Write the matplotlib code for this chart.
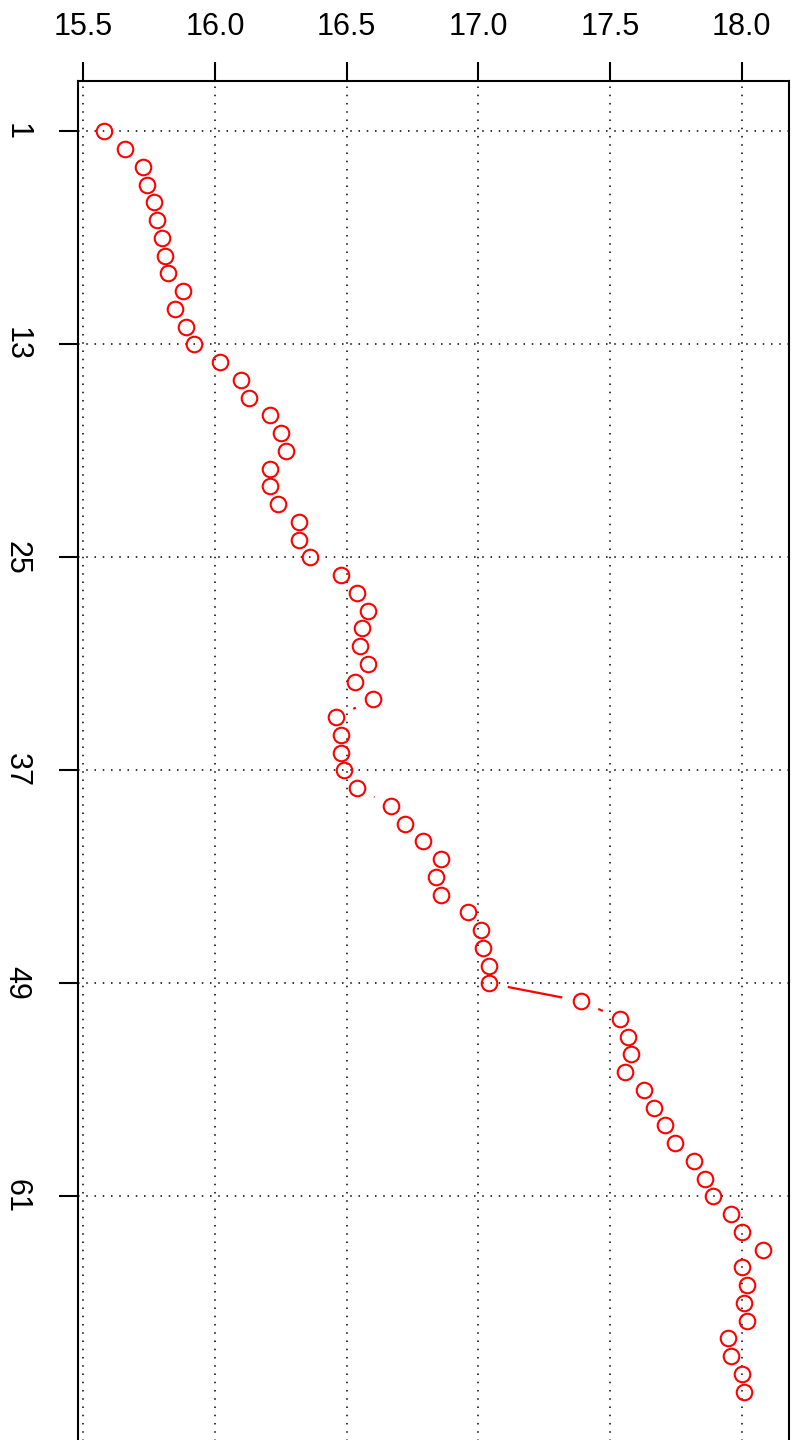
import numpy as np
import matplotlib
matplotlib.use("Agg")
import matplotlib.pyplot as plt

# ---- data ----
values = [15.578, 15.659, 15.728, 15.740, 15.770, 15.780, 15.800, 15.810, 15.821, 15.880,
          15.849, 15.890, 15.920, 16.020, 16.099, 16.131, 16.209, 16.249, 16.270, 16.209,
          16.209, 16.239, 16.320, 16.320, 16.360, 16.480, 16.540, 16.580, 16.560, 16.550,
          16.580, 16.530, 16.600, 16.460, 16.480, 16.480, 16.489, 16.540, 16.670, 16.721,
          16.791, 16.860, 16.840, 16.860, 16.961, 17.009, 17.019, 17.041, 17.041, 17.390,
          17.539, 17.569, 17.579, 17.559, 17.628, 17.669, 17.709, 17.749, 17.820, 17.861,
          17.891, 17.959, 18.001, 18.080, 18.001, 18.020, 18.010, 18.020, 17.950, 17.960,
          18.001, 18.010]
index = list(range(1, len(values) + 1))
x_ticks = [15.5, 16.0, 16.5, 17.0, 17.5, 18.0]
x_tick_labels = ["15.5", "16.0", "16.5", "17.0", "17.5", "18.0"]
y_ticks = [1, 13, 25, 37, 49, 61]
y_tick_labels = ["1", "13", "25", "37", "49", "61"]

plt.rcParams['font.family'] = ['Liberation Sans', 'DejaVu Sans']

W, H = 792, 1440
fig = plt.figure(figsize=(W / 100, H / 100), dpi=100)
left, right, top, bottom = 77.5, 789, 81, 1442
ax = fig.add_axes([left / W, (H - bottom) / H, (right - left) / W, (bottom - top) / H])

xv = np.array(values)
yv = np.array(index, dtype=float)
xr = xv.max() - xv.min()
yr = yv.max() - yv.min()
ax.set_xlim(xv.min() - 0.04 * xr, xv.max() + 0.04 * xr)
ax.set_ylim(yv.max() + 0.04 * yr, yv.min() - 0.04 * yr)

# grid
for xt in x_ticks:
    ax.axvline(xt, color='black', lw=1.1, ls=(0, (1, 4.4)), zorder=1)
for yt in y_ticks:
    ax.axhline(yt, color='black', lw=1.1, ls=(0, (1, 4.4)), zorder=1)

# line segments with gaps (R type="b")
fig.canvas.draw()
pts = ax.transData.transform(np.column_stack([xv, yv]))
gap = 19.0
inv = ax.transData.inverted()
for i in range(len(pts) - 1):
    p0, p1 = pts[i], pts[i + 1]
    d = p1 - p0
    L = np.hypot(*d)
    if L > 2 * gap:
        u = d / L
        a = inv.transform(p0 + u * gap)
        b = inv.transform(p1 - u * gap)
        ax.plot([a[0], b[0]], [a[1], b[1]], color='red', lw=1.6, zorder=2,
                solid_capstyle='butt')

ax.plot(xv, yv, ls='none', marker='o', ms=11.2, mfc='none', mec='red', mew=1.5, zorder=3)

ax.xaxis.tick_top()
ax.set_xticks(x_ticks)
ax.set_xticklabels(x_tick_labels)
ax.set_yticks(y_ticks)
ax.set_yticklabels(y_tick_labels, rotation=-90, va='center')
ax.tick_params(axis='x', length=14, width=1.5, labelsize=22, pad=14, direction='out')
ax.tick_params(axis='y', length=14, width=1.5, labelsize=22, pad=19, direction='out')
for s in ax.spines.values():
    s.set_linewidth(1.5)

fig.savefig("out.png", dpi=100)
